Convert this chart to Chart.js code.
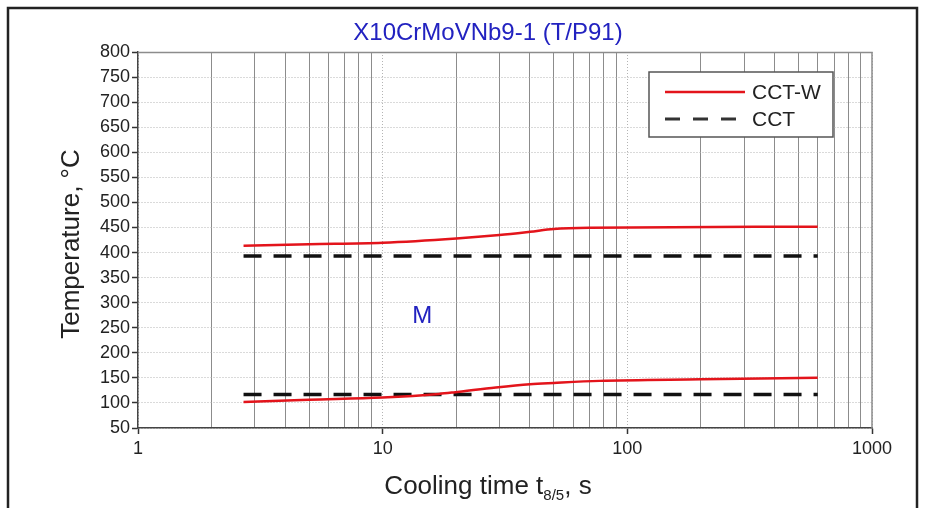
<!DOCTYPE html>
<html><head><meta charset="utf-8">
<script src="https://cdn.jsdelivr.net/npm/chart.js@4/dist/chart.umd.min.js"></script>
<style>html,body{margin:0;padding:0;background:#fff;}canvas{display:block}</style>
</head><body>
<canvas id="c" width="925" height="508"></canvas>
<script>
const chartTitle = 'X10CrMoVNb9-1 (T/P91)';
const xAxisLabelParts = ['Cooling time t', '8/5', ', s'];
const yAxisLabel = 'Temperature, °C';
const regionLabel = 'M';
const legendLabels = ['CCT-W', 'CCT'];

const xTickValues = [1, 10, 100, 1000];
const xTickLabels = ['1', '10', '100', '1000'];
const xMinorValues = [2, 3, 4, 5, 6, 7, 8, 9, 20, 30, 40, 50, 60, 70, 80, 90, 200, 300, 400, 500, 600, 700, 800, 900];
const yTickValues = [50, 100, 150, 200, 250, 300, 350, 400, 450, 500, 550, 600, 650, 700, 750, 800];
const yTickLabels = ['50', '100', '150', '200', '250', '300', '350', '400', '450', '500', '550', '600', '650', '700', '750', '800'];

const cctwUpperX = [2.7, 5, 10, 20, 30, 40, 50, 70, 600];
const cctwUpperY = [413.5, 416.5, 419.5, 428, 435, 441.5, 447, 449.5, 451.5];
const cctwLowerX = [2.7, 5, 10, 17, 19.5, 29, 40, 50, 77, 200, 600];
const cctwLowerY = [102, 106.5, 111, 118, 121, 131, 137.5, 140, 144, 147, 150];
const cctX = [2.7, 600];
const cctUpperY = [393, 393];
const cctLowerY = [117, 117];

const FONT = "'Liberation Sans', Arial, Helvetica, sans-serif";
const RED = '#e3141b';
const DARK = '#111111';
const BLUE = '#2222c0';

const toPts = (xs, ys) => xs.map((x, i) => ({x: x, y: ys[i]}));

const redStyle = {borderColor: RED, borderWidth: 2.5, pointRadius: 0, fill: false, cubicInterpolationMode: 'monotone'};
const dashStyle = {borderColor: DARK, borderWidth: 3.5, borderDash: [18, 12], pointRadius: 0, fill: false};

const datasets = [
  Object.assign({label: legendLabels[0], data: toPts(cctwUpperX, cctwUpperY)}, redStyle),
  Object.assign({label: legendLabels[0], data: toPts(cctwLowerX, cctwLowerY)}, redStyle),
  Object.assign({label: legendLabels[1], data: toPts(cctX, cctUpperY)}, dashStyle),
  Object.assign({label: legendLabels[1], data: toPts(cctX, cctLowerY)}, dashStyle)
];

const decorPlugin = {
  id: 'decor',
  beforeDraw(chart) {
    const ctx = chart.ctx;
    ctx.save();
    ctx.fillStyle = '#fff';
    ctx.fillRect(0, 0, chart.width, chart.height);
    ctx.strokeStyle = '#222';
    ctx.lineWidth = 2.5;
    ctx.strokeRect(8, 8, 909, 560);
    ctx.restore();
  },
  afterDatasetsDraw(chart) {
    const ctx = chart.ctx;
    const a = chart.chartArea;
    ctx.save();
    // plot frame (top and right)
    ctx.strokeStyle = '#8c8c8c';
    ctx.lineWidth = 1.5;
    ctx.beginPath();
    ctx.moveTo(a.left, a.top + 0.5);
    ctx.lineTo(a.right, a.top + 0.5);
    ctx.lineTo(a.right, a.bottom);
    ctx.stroke();

    // region label
    ctx.fillStyle = BLUE;
    ctx.font = '24px ' + FONT;
    ctx.textAlign = 'center';
    ctx.textBaseline = 'middle';
    const xs = chart.scales.x, ys = chart.scales.y;
    ctx.fillText(regionLabel, xs.getPixelForValue(14.5), ys.getPixelForValue(273));

    // legend
    const lx = 649, ly = 72, lw = 184, lh = 65;
    ctx.fillStyle = '#fff';
    ctx.fillRect(lx, ly, lw, lh);
    ctx.strokeStyle = '#555';
    ctx.lineWidth = 1.5;
    ctx.strokeRect(lx, ly, lw, lh);
    const rows = [
      {label: legendLabels[0], y: 92, color: RED, width: 2.5, dash: []},
      {label: legendLabels[1], y: 119, color: '#333', width: 3, dash: [15, 13]}
    ];
    rows.forEach(r => {
      ctx.beginPath();
      ctx.setLineDash(r.dash);
      ctx.strokeStyle = r.color;
      ctx.lineWidth = r.width;
      ctx.moveTo(665, r.y);
      ctx.lineTo(745, r.y);
      ctx.stroke();
      ctx.setLineDash([]);
      ctx.fillStyle = '#222';
      ctx.font = '21px ' + FONT;
      ctx.textAlign = 'left';
      ctx.textBaseline = 'middle';
      ctx.fillText(r.label, 752, r.y + 1);
    });

    // title
    ctx.fillStyle = BLUE;
    ctx.font = '24px ' + FONT;
    ctx.textAlign = 'center';
    ctx.textBaseline = 'middle';
    ctx.fillText(chartTitle, 488, 33);

    // y axis label
    ctx.save();
    ctx.translate(72, 244);
    ctx.rotate(-Math.PI / 2);
    ctx.fillStyle = '#222';
    ctx.font = '26px ' + FONT;
    ctx.textAlign = 'center';
    ctx.textBaseline = 'middle';
    ctx.fillText(yAxisLabel, 0, 0);
    ctx.restore();

    // x axis label with subscript
    const bigF = '26px ' + FONT, smallF = '15px ' + FONT;
    ctx.font = bigF;
    const w1 = ctx.measureText(xAxisLabelParts[0]).width;
    const w3 = ctx.measureText(xAxisLabelParts[2]).width;
    ctx.font = smallF;
    const w2 = ctx.measureText(xAxisLabelParts[1]).width;
    const total = w1 + w2 + w3;
    let x0 = 488 - total / 2;
    const base = 494;
    ctx.fillStyle = '#222';
    ctx.textAlign = 'left';
    ctx.textBaseline = 'alphabetic';
    ctx.font = bigF;
    ctx.fillText(xAxisLabelParts[0], x0, base);
    ctx.font = smallF;
    ctx.fillText(xAxisLabelParts[1], x0 + w1, base + 6);
    ctx.font = bigF;
    ctx.fillText(xAxisLabelParts[2], x0 + w1 + w2, base);
    ctx.restore();
  }
};

new Chart(document.getElementById('c'), {
  type: 'line',
  data: {datasets: datasets},
  options: {
    responsive: false,
    animation: false,
    devicePixelRatio: 1,
    layout: {padding: {left: 0, top: 52, right: 53, bottom: 0}},
    plugins: {legend: {display: false}, title: {display: false}, tooltip: {enabled: false}},
    scales: {
      x: {
        type: 'logarithmic', position: 'bottom', min: 1, max: 1000,
        afterBuildTicks: s => { s.ticks = xTickValues.map(v => ({value: v})); },
        afterFit: s => { s.height = 80; },
        ticks: {callback: (v, i) => xTickLabels[i], font: {family: FONT, size: 18}, color: '#222', padding: 4, maxRotation: 0, autoSkip: false},
        grid: {color: '#b4b4b4', lineWidth: 1, tickLength: 6, tickColor: '#333', tickWidth: 1.5},
        border: {display: true, color: '#444', width: 1.5, dash: [1, 2]}
      },
      x2: {
        type: 'logarithmic', position: 'top', min: 1, max: 1000,
        afterBuildTicks: s => { s.ticks = xMinorValues.map(v => ({value: v})); },
        afterFit: s => { s.height = 0; },
        ticks: {display: false},
        grid: {color: '#8c8c8c', lineWidth: 1, drawTicks: false},
        border: {display: false}
      },
      y: {
        type: 'linear', position: 'left', min: 50, max: 800,
        afterBuildTicks: s => { s.ticks = yTickValues.map(v => ({value: v})); },
        afterFit: s => { s.width = 138; },
        ticks: {callback: (v, i) => yTickLabels[i], font: {family: FONT, size: 18}, color: '#222', padding: 2},
        grid: {color: '#b4b4b4', lineWidth: 1, tickLength: 6, tickColor: '#333', tickWidth: 1.5},
        border: {display: true, color: '#444', width: 1.5, dash: [1, 2]}
      }
    }
  },
  plugins: [decorPlugin]
});
</script>
</body></html>
